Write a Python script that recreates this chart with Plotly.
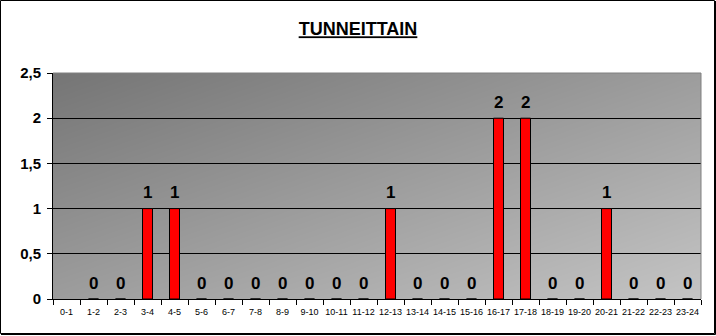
import base64, struct, zlib
import plotly.graph_objects as go

categories = ["0-1", "1-2", "2-3", "3-4", "4-5", "5-6", "6-7", "7-8", "8-9", "9-10",
              "10-11", "11-12", "12-13", "13-14", "14-15", "15-16", "16-17", "17-18",
              "18-19", "19-20", "20-21", "21-22", "22-23", "23-24"]
values = [None, 0, 0, 1, 1, 0, 0, 0, 0, 0, 0, 0, 1, 0, 0, 0, 2, 2, 0, 0, 1, 0, 0, 0]
y_tickvals = [0, 0.5, 1, 1.5, 2, 2.5]
y_ticktext = ["0", "0,5", "1", "1,5", "2", "2,5"]
title_text = "TUNNEITTAIN"

W, H = 716, 336
ML, MR, MT, MB = 53, 15, 73, 37
PW, PH = W - ML - MR, H - MT - MB


def gradient_png(w, h, c0, c1):
    rows = []
    for j in range(h):
        row = bytearray([0])
        for i in range(w):
            u = (i / (w - 1) + j / (h - 1)) / 2
            row.append(int(round(c0 + (c1 - c0) * u)))
        rows.append(bytes(row))
    raw = b"".join(rows)

    def chunk(t, d):
        c = struct.pack(">I", len(d)) + t + d
        return c + struct.pack(">I", zlib.crc32(t + d) & 0xffffffff)

    png = b"\x89PNG\r\n\x1a\n" + chunk(b"IHDR", struct.pack(">IIBBBBB", w, h, 8, 0, 0, 0, 0))
    png += chunk(b"IDAT", zlib.compress(raw, 9)) + chunk(b"IEND", b"")
    return "data:image/png;base64," + base64.b64encode(png).decode()


bg = gradient_png(PW, PH, 117, 196)

fig = go.Figure()
fig.add_trace(go.Bar(
    x=categories, y=values,
    marker=dict(color="#ff0000", line=dict(color="black", width=1)),
    hoverinfo="skip",
))

annotations = []
for c, v in zip(categories, values):
    if v is None:
        continue
    annotations.append(dict(
        x=c, y=v, xref="x", yref="y", text=str(v), showarrow=False,
        yanchor="middle", yshift=16,
        font=dict(family="Arial, Liberation Sans", size=17, color="black", weight="bold"),
    ))


def px_x(p):
    return (p - ML) / PW


def px_y(p):
    return (H - MB - p) / PH


shapes = [
    dict(type="line", xref="paper", yref="paper", x0=0, x1=1, y0=1, y1=1,
         line=dict(color="#808080", width=1), layer="above"),
    dict(type="line", xref="paper", yref="paper", x0=1, x1=1, y0=0, y1=1,
         line=dict(color="#808080", width=1), layer="above"),
    dict(type="rect", xref="paper", yref="paper",
         x0=px_x(0.5), x1=px_x(714.5), y0=px_y(0.5), y1=px_y(333.5),
         line=dict(color="black", width=1), layer="above"),
    dict(type="line", xref="paper", yref="paper",
         x0=px_x(715.5), x1=px_x(715.5), y0=px_y(1), y1=px_y(334.5),
         line=dict(color="black", width=1), layer="above"),
    dict(type="line", xref="paper", yref="paper",
         x0=px_x(1), x1=px_x(715.5), y0=px_y(334.5), y1=px_y(334.5),
         line=dict(color="black", width=1), layer="above"),
]

fig.update_layout(
    width=W, height=H,
    margin=dict(l=ML, r=MR, t=MT, b=MB, pad=0),
    paper_bgcolor="white",
    plot_bgcolor="rgba(0,0,0,0)",
    separators=", ",
    showlegend=False,
    bargap=0.63,
    title=dict(
        text="<b><u>" + title_text + "</u></b>",
        x=0.5, xref="container", xanchor="center",
        y=1 - 29 / H, yref="container", yanchor="middle",
        font=dict(family="Arial, Liberation Sans", size=18, color="black"),
    ),
    images=[dict(source=bg, xref="paper", yref="paper", x=0, y=1, sizex=1, sizey=1,
                 sizing="stretch", layer="below", xanchor="left", yanchor="top")],
    xaxis=dict(
        type="category", tickson="boundaries", ticks="outside", ticklen=5,
        tickcolor="black", tickwidth=1, showline=True, linecolor="black", linewidth=1,
        showgrid=False, zeroline=False, tickangle=0, automargin=False,
        ticklabelstandoff=4,
        tickfont=dict(family="Arial, Liberation Sans", size=9, color="black"),
        fixedrange=True,
    ),
    yaxis=dict(
        range=[0, 2.5], tickvals=y_tickvals, ticktext=y_ticktext,
        ticks="outside", ticklen=5, tickcolor="black", tickwidth=1,
        showline=True, linecolor="black", linewidth=1, automargin=False,
        ticklabelstandoff=3,
        showgrid=True, gridcolor="black", gridwidth=1, zeroline=False,
        tickfont=dict(family="Arial, Liberation Sans", size=15, color="black", weight="bold"),
        fixedrange=True,
    ),
    annotations=annotations,
    shapes=shapes,
)

fig.write_html("out.html", config={"displayModeBar": False})
